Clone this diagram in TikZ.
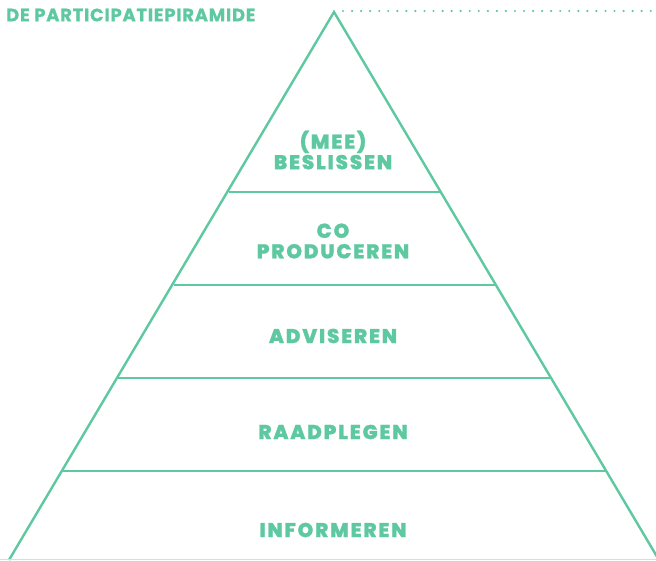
\documentclass[tikz,border=0pt]{standalone}
\usepackage{fontspec}
\setmainfont{Poppins}
\newfontfamily\lvlfont{Poppins ExtraBold}[LetterSpace=9,FakeBold=1.2]
\newfontfamily\titlefont{Poppins Bold}[LetterSpace=4,FakeBold=0.6]
\definecolor{mint}{RGB}{94,200,160}
\begin{document}
\begin{tikzpicture}[x=1pt,y=-1pt,
  edge/.style={draw=mint,line width=2.4pt,line join=miter},
  lvl/.style={text=mint,font=\lvlfont\fontsize{20}{20.5}\selectfont,align=center,inner sep=0pt},
  ttl/.style={text=mint,font=\titlefont\fontsize{18}{19}\selectfont,anchor=west,inner sep=0pt}]
\useasboundingbox (0,0) rectangle (656,560);
\coordinate (apex) at (334,12);
\coordinate (bl) at (9,560);
\coordinate (br) at (659,560);
\draw[edge] (bl) -- (apex) -- (br);
\draw[edge] (229,192) -- (440,192);
\draw[edge] (174,285) -- (497,285);
\draw[edge] (118,378) -- (552,378);
\draw[edge] (63,471) -- (607,471);
\draw[draw=mint!40,line width=1pt] (0,559.5) -- (656,559.5);
\coordinate (dstart) at (343,11);
\coordinate (dend) at (656,11);
\draw[mint,line width=2.4pt,line cap=round,dash pattern=on 0pt off 9.05pt] (dstart) -- (dend);
\node[ttl] (title) at (6,15) {DE PARTICIPATIEPIRAMIDE};
\node[lvl] (l5) at (333,150) {(MEE)\\BESLISSEN};
\node[lvl] (l4) at (333,241) {CO\\PRODUCEREN};
\node[lvl] (l3) at (333,336) {ADVISEREN};
\node[lvl] (l2) at (333,432) {RAADPLEGEN};
\node[lvl] (l1) at (333,530) {INFORMEREN};
\end{tikzpicture}
\end{document}
